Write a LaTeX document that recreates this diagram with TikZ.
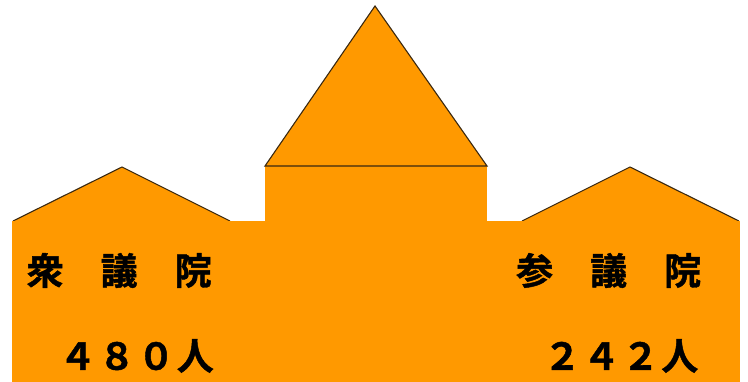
\documentclass[tikz,border=0pt]{standalone}
\usepackage{fontspec}
\newfontfamily\cjk{Noto Sans CJK JP}[BoldFont={* Bold},BoldFeatures={FakeBold=1.2}]
\definecolor{wallorange}{HTML}{FF9900}
\definecolor{roofline}{HTML}{3A2810}
\newcommand{\gap}{\kern2.2pt}
\begin{document}
\begin{tikzpicture}[x=1pt,y=-1pt,
  roof/.style={fill=wallorange,draw=roofline,line width=1.1pt,line join=miter},
  wall/.style={fill=wallorange,draw=none},
  label/.style={anchor=west,inner sep=0pt,font=\cjk\bfseries\fontsize{37}{37}\selectfont}]
  \useasboundingbox (0,0) rectangle (748,382);
  % side gables
  \draw[roof] (13,221) -- (122,167) -- (230,221);
  \draw[roof] (522,221) -- (630,167) -- (739,221);
  % central tower and its pediment
  \fill[wall] (265,166) rectangle (487,222);
  \draw[roof] (265,166) -- (375,6) -- (487,166) -- cycle;
  % main body
  \fill[wall] (12,221) rectangle (740,382);
  % labels
  \node[label] (shu) at (26.5,270.5) {衆　議　院};
  \node[label] (shunum) at (59,356) {４\gap ８\gap ０\gap 人};
  \node[label] (san) at (516,270.5) {参　議　院};
  \node[label] (sannum) at (543.5,356) {２\gap ４\gap ２\gap 人};
\end{tikzpicture}
\end{document}
